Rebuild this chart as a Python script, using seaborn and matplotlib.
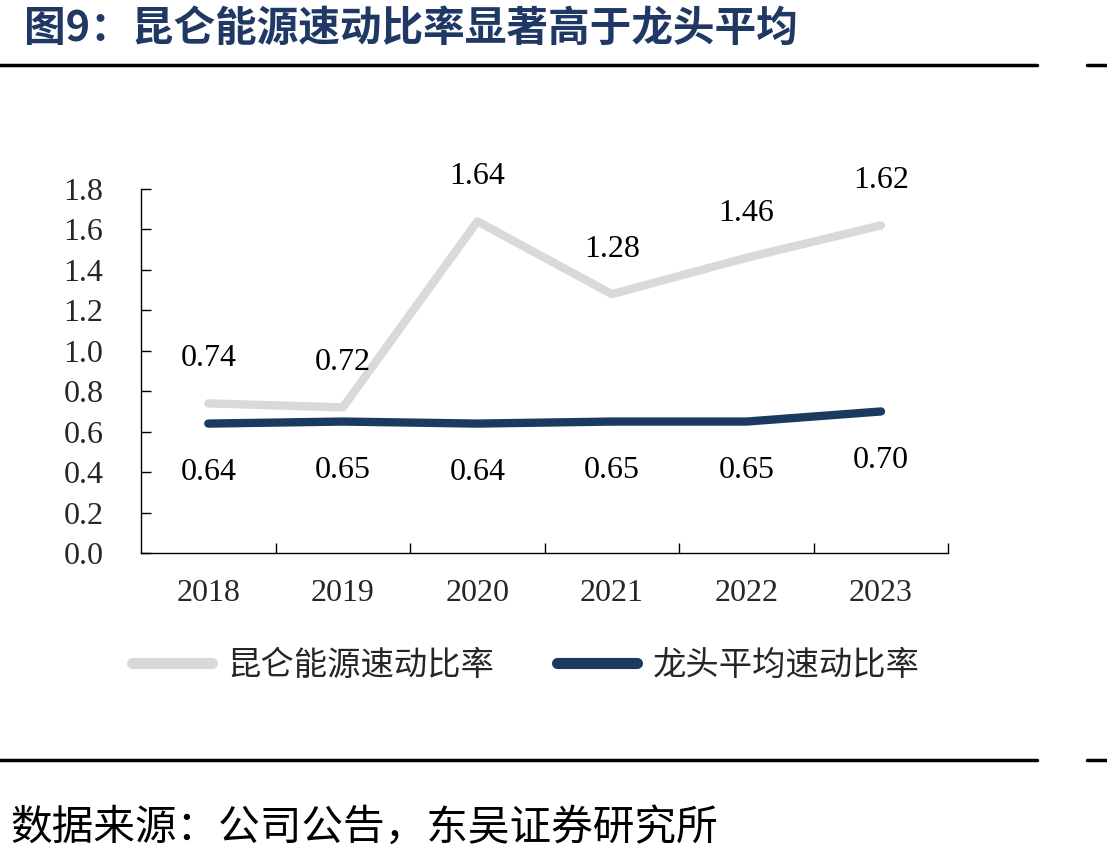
import seaborn as sns
import matplotlib.pyplot as plt
import matplotlib.lines as mlines
import pandas as pd

years = ['2018', '2019', '2020', '2021', '2022', '2023']
kunlun = [0.74, 0.72, 1.64, 1.28, 1.46, 1.62]
leader = [0.64, 0.65, 0.64, 0.65, 0.65, 0.70]
yticks = [0.0, 0.2, 0.4, 0.6, 0.8, 1.0, 1.2, 1.4, 1.6, 1.8]

name_kunlun = '昆仑能源速动比率'
name_leader = '龙头平均速动比率'
title = '图9：昆仑能源速动比率显著高于龙头平均'
source = '数据来源：公司公告，东吴证券研究所'

gray = '#d9d9d9'
navy = '#1b3a5f'

sns.set_theme(style='white')
plt.rcParams['font.family'] = ['Liberation Serif', 'Noto Sans CJK SC']

df = pd.DataFrame({'year': years, name_kunlun: kunlun, name_leader: leader})

fig = plt.figure(figsize=(11.07, 8.63), dpi=100)
ax = fig.add_axes([0.1274, 0.3592, 0.7292, 0.4218])

sns.lineplot(data=df, x='year', y=name_kunlun, ax=ax, color=gray, linewidth=6,
             solid_capstyle='round', sort=False)
sns.lineplot(data=df, x='year', y=name_leader, ax=ax, color=navy, linewidth=6,
             solid_capstyle='round', sort=False)

for i, v in enumerate(kunlun):
    ax.annotate(f'{v:.2f}', (i, v), xytext=(0, 32), textcoords='offset points',
                ha='center', va='center', fontsize=23, color='black')
for i, v in enumerate(leader):
    ax.annotate(f'{v:.2f}', (i, v), xytext=(0, -35), textcoords='offset points',
                ha='center', va='center', fontsize=23, color='black')

ax.set_xlim(-0.5, len(years) - 0.5)
ax.set_ylim(0, 1.8)
ax.set_yticks(yticks)
ax.set_yticklabels([f'{t:.1f}' for t in yticks])
ax.set_xticks(range(len(years)))
ax.set_xticklabels(years)
ax.set_xticks([i + 0.5 for i in range(len(years))], minor=True)
ax.set_xlabel('')
ax.set_ylabel('')

for s in ['top', 'right']:
    ax.spines[s].set_visible(False)
for s in ['left', 'bottom']:
    ax.spines[s].set_color('black')
    ax.spines[s].set_linewidth(1)

ax.tick_params(axis='y', direction='in', length=7, width=1, color='black',
               labelsize=23, pad=27, left=True)
ax.tick_params(axis='x', which='major', length=0, labelsize=23, pad=19)
ax.tick_params(axis='x', which='minor', direction='in', length=7, width=1,
               color='black', bottom=True)

h1 = mlines.Line2D([], [], color=gray, linewidth=8, solid_capstyle='round')
h2 = mlines.Line2D([], [], color=navy, linewidth=8, solid_capstyle='round')
fig.legend([h1, h2], [name_kunlun, name_leader], loc='center',
           bbox_to_anchor=(0.475, 0.229), ncol=2, frameon=False,
           prop={'family': 'Noto Sans CJK SC', 'size': 24},
           handlelength=2.4, columnspacing=1.9, handletextpad=0.45)

fig.text(0.022, 0.967, title, fontsize=30, fontweight='bold', color='#1f3864',
         ha='left', va='center', family=['Noto Sans CJK SC'])
fig.text(0.009, 0.04, source, fontsize=30, color='black', ha='left', va='center',
         family=['Noto Sans CJK SC'])

for yy in [0.925, 0.119]:
    fig.add_artist(mlines.Line2D([0, 0.937], [yy, yy], color='black', linewidth=2.5))
    fig.add_artist(mlines.Line2D([0.982, 1.0], [yy, yy], color='black', linewidth=2.5))

fig.savefig('out.png', dpi=100)
